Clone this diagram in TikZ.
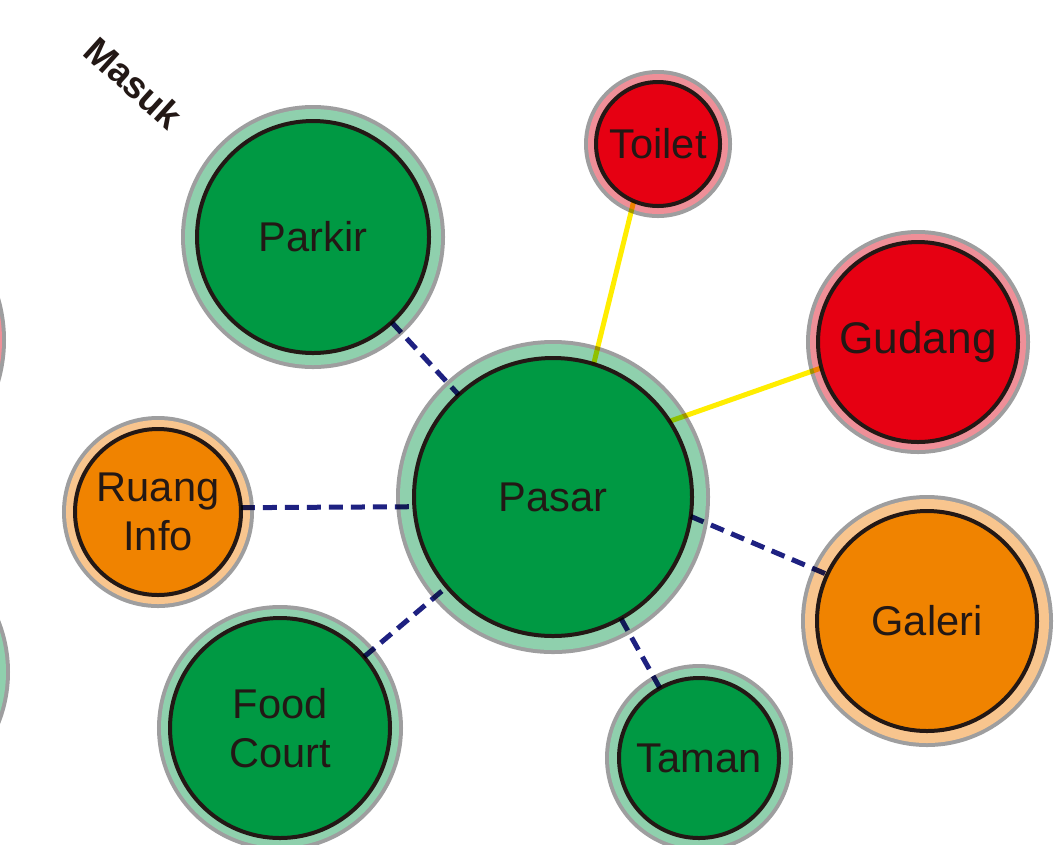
\documentclass[tikz,border=0pt]{standalone}
\usepackage{fontspec}
\setmainfont{Liberation Sans}
\usetikzlibrary{calc}

% palette
\definecolor{ink}{HTML}{231815}
\definecolor{rimgray}{HTML}{9E9E9F}
\definecolor{zgreen}{HTML}{009943}
\definecolor{zgreenlt}{HTML}{8FD0AD}
\definecolor{zred}{HTML}{E60012}
\definecolor{zredlt}{HTML}{EF8F98}
\definecolor{zorange}{HTML}{F08300}
\definecolor{zorangelt}{HTML}{F8C58E}
\definecolor{linknavy}{HTML}{1E2181}
\definecolor{linkyellow}{HTML}{FFED00}

\def\pxu{0.75pt}

\tikzset{
  % #1 radius of the black outline, #2 fill, #3 light rim colour, #4 rim width
  bubble/.style n args={4}{
    circle, inner sep=0pt, outer sep=0pt,
    minimum size=2*#1*\pxu,
    fill=#2, draw=ink, line width=4*\pxu,
    text=ink, align=center,
    font=\fontsize{31.2}{36.5}\selectfont,
    preaction={draw=rimgray, line width=2*(#4)*\pxu},
    preaction={draw=#3, line width=2*(#4-4)*\pxu}
  },
  greenbub/.style 2 args={bubble={#1}{zgreen}{zgreenlt}{#2}},
  redbub/.style 2 args={bubble={#1}{zred}{zredlt}{#2}},
  orangebub/.style 2 args={bubble={#1}{zorange}{zorangelt}{#2}},
  biglabel/.style={font=\fontsize{33.2}{38}\selectfont},
  walk/.style={draw=linknavy, line width=5*\pxu, dash pattern=on 14*\pxu off 8*\pxu, blend mode=multiply},
  service/.style={draw=linkyellow, line width=5*\pxu, blend mode=multiply},
  gate/.style={font=\bfseries\fontsize{28}{32}\selectfont, text=ink}
}

\begin{document}
\begin{tikzpicture}[x=0.75pt, y=-0.75pt]
\useasboundingbox (0,0) rectangle (1055,844);

% zones
\node[greenbub={139}{18}]  (pasar)  at (553,497) {Pasar};
\node[greenbub={116}{16}]  (parkir) at (313,237) {Parkir};
\node[redbub={62}{12}]     (toilet) at (658,144) {Toilet};
\node[redbub={100}{12}, biglabel] (gudang) at (918,342) {Gudang};
\node[orangebub={83}{13}]  (info)   at (158,512) {Ruang\\Info};
\node[orangebub={110}{16}] (galeri) at (927,621) {Galeri};
\node[greenbub={110}{13}]  (food)   at (280,728) {Food\\Court};
\node[greenbub={80}{14}]   (taman)  at (699,758) {Taman};

% zones cut by the left edge
\node[redbub={136}{14}]    (westA)  at (-144,340) {};
\node[greenbub={126}{14}]  (westB)  at (-130,672) {};

% entrance
\node[gate, rotate=-42] (masuk) at (134,83) {Masuk};

% walkways
\draw[walk] (parkir) -- (pasar);
\draw[walk] (info.3.5) -- (pasar.184);
\draw[walk] (food) -- (pasar);
\draw[walk] (taman) -- (pasar);
\draw[walk] (pasar.-8.5) -- (galeri.155.7);

% service links
\draw[service] (toilet.247.6) -- (pasar.73.2);
\draw[service] (gudang.195.4) -- (pasar.33.9);
\end{tikzpicture}
\end{document}
